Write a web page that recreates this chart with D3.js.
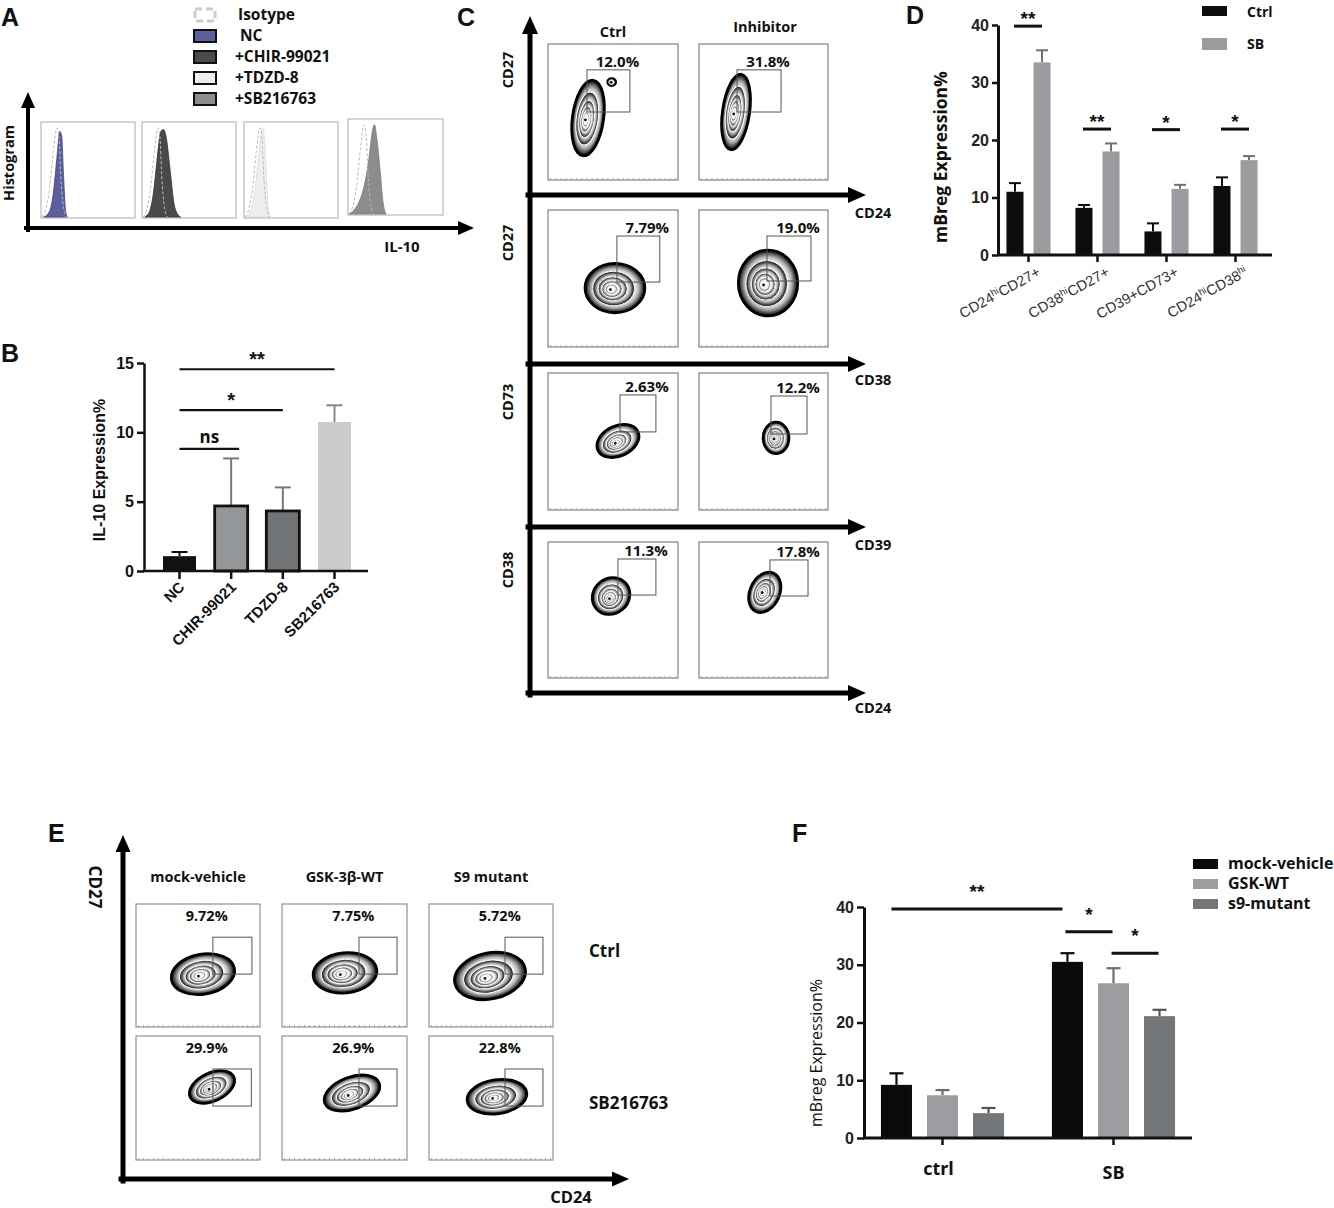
<!DOCTYPE html>
<html><head><meta charset="utf-8">
<script src="https://cdn.jsdelivr.net/npm/d3@7"></script>
<style>body{margin:0;background:#fff} svg{display:block}</style>
</head><body>
<svg id="fig" width="1334" height="1208"></svg>
<script>
// ================= DATA =================
// Panel A – IL-10 histograms (channel 0-100, relative count 0-100)
const histLegend = ["Isotype","NC","+CHIR-99021","+TDZD-8","+SB216763"];
const isotypeCurve = [[1,0],[5,8],[9,30],[13,70],[17,97],[19,88],[21,45],[24,10],[27,0]];
const ncCurve   = [[3,0],[9,6],[13,25],[17,65],[20,93],[22,88],[24,45],[26,8],[28,0]];
const chirCurve = [[3,0],[8,6],[12,25],[16,62],[20,93],[23,95],[26,85],[30,50],[34,15],[38,3],[41,0]];
const tdzdCurve = [[2,0],[7,6],[11,25],[15,60],[18,90],[20,96],[22,80],[24,40],[26,10],[28,0]];
const sbCurve   = [[1,0],[6,4],[12,14],[18,35],[22,60],[26,92],[28,97],[30,85],[34,45],[37,12],[40,0]];
const histCurves = [ncCurve, chirCurve, tdzdCurve, sbCurve];

// Panel B – IL-10 expression %
const bCategories = ["NC","CHIR-99021","TDZD-8","SB216763"];
const bMeans = [1.07, 4.69, 4.33, 10.74];
const bErrTop = [1.37, 8.12, 6.03, 11.95];
const bTicks = [0,5,10,15];
const bSig = [
  {from:"NC", to:"CHIR-99021", label:"ns", value:8.8},
  {from:"NC", to:"TDZD-8", label:"*", value:11.6},
  {from:"NC", to:"SB216763", label:"**", value:14.55}
];

// Panel C – flow gates (axis units 0-100)
const cColumns = ["Ctrl","Inhibitor"];
const cYMarkers = ["CD27","CD27","CD73","CD38"];
const cXMarkers = ["CD24","CD38","CD39","CD24"];
const cPercents = [["12.0%","31.8%"],["7.79%","19.0%"],["2.63%","12.2%"],["11.3%","17.8%"]];
const cGates = [   // [x0,x1,y0,y1]
  [[30,63,50,81],[29.5,63.6,50,81]],
  [[53,86,47.4,81],[52.7,86.8,48.2,81]],
  [[55.4,83,57,84],[55.8,83.7,55.5,83.2]],
  [[53.8,83,61,87.5],[55,84.5,60.3,86.8]]
];
const cPopulations = [
  [[{cx:30.8,cy:45.6,rx:12,ry:28,rot:8},{cx:49,cy:72,rx:3,ry:2.5,rot:0}],
   [{cx:28.7,cy:50,rx:10.5,ry:28,rot:8}]],
  [[{cx:51.5,cy:43,rx:23,ry:18,rot:0}],
   [{cx:53.5,cy:46.7,rx:23,ry:24,rot:0}]],
  [[{cx:53.8,cy:50.4,rx:17,ry:11,rot:-25}],
   [{cx:59.7,cy:52.6,rx:10,ry:11.5,rot:0}]],
  [[{cx:48.5,cy:60.3,rx:15,ry:13,rot:-40}],
   [{cx:51,cy:63,rx:11.5,ry:15.5,rot:25}]]
];

// Panel D – mBreg expression %
const dCategoryParts = [["CD24","hi","CD27+"],["CD38","hi","CD27+"],["CD39+CD73+"],["CD24","hi","CD38","hi"]];
const dCategories = ["CD24hiCD27+","CD38hiCD27+","CD39+CD73+","CD24hiCD38hi"];
const dSeries = ["Ctrl","SB"];
const dCtrl = [11.0, 8.2, 4.1, 12.0];
const dCtrlErrTop = [12.5, 8.7, 5.5, 13.5];
const dSB = [33.5, 18.0, 11.5, 16.5];
const dSBErrTop = [35.6, 19.4, 12.2, 17.2];
const dTicks = [0,10,20,30,40];
const dSigLabels = ["**","**","*","*"];
const dSigValues = [39.8, 21.9, 21.8, 21.9];

// Panel E – flow gates CD24/CD27
const eColumns = ["mock-vehicle","GSK-3β-WT","S9 mutant"];
const eRows = ["Ctrl","SB216763"];
const ePercents = [["9.72%","7.75%","5.72%"],["29.9%","26.9%","22.8%"]];
const eGates = [
  [[62,93.5,43,73],[61.6,92,43,73],[61.3,91.9,43,73]],
  [[62,93,43.5,73.4],[61.6,92,43.5,73.4],[61.3,91.9,43.5,73.4]]
];
const ePopulations = [
  [{cx:54,cy:43,rx:25.8,ry:16.3,rot:-10},{cx:50.4,cy:44,rx:25.6,ry:16.3,rot:-6},{cx:49.2,cy:41.5,rx:29,ry:18.7,rot:-12}],
  [{cx:61.3,cy:58.9,rx:19.4,ry:11.3,rot:-25},{cx:56,cy:54,rx:23.2,ry:12.9,rot:-20},{cx:54.8,cy:51,rx:24.2,ry:13.7,rot:-8}]
];

// Panel F – mBreg expression %
const fGroups = ["ctrl","SB"];
const fSeries = ["mock-vehicle","GSK-WT","s9-mutant"];
const fMock = [9.2, 30.5];
const fMockErrTop = [11.2, 32.0];
const fGSK = [7.4, 26.8];
const fGSKErrTop = [8.3, 29.4];
const fS9 = [4.3, 21.1];
const fS9ErrTop = [5.2, 22.2];
const fTicks = [0,10,20,30,40];
const fSig = [
  {from:["ctrl","mock-vehicle"], to:["SB","mock-vehicle"], label:"**", value:39.65},
  {from:["SB","mock-vehicle"], to:["SB","GSK-WT"], label:"*", value:35.7},
  {from:["SB","GSK-WT"], to:["SB","s9-mutant"], label:"*", value:32.0}
];

// ================= DRAWING =================
const svg = d3.select("#fig");
const ARIAL = "'Liberation Sans', Arial, sans-serif";
const OPEN = "'Open Sans', 'Noto Sans', sans-serif";

const defs = svg.append("defs");
const zg = defs.append("radialGradient").attr("id","zebra");
[[0,"#ffffff"],[0.66,"#f6f6f6"],[0.8,"#b0b0b0"],[0.92,"#444"],[1,"#080808"]]
  .forEach(([o,c]) => zg.append("stop").attr("offset",o).attr("stop-color",c));

function txt(g, x, y, s, opt={}) {
  return g.append("text").attr("x",x).attr("y",y).text(s)
    .attr("font-family", opt.family || OPEN)
    .attr("font-size", opt.size || 14)
    .attr("font-weight", opt.weight || "bold")
    .attr("fill", opt.fill || "#111")
    .attr("text-anchor", opt.anchor || "start");
}
function arrow(g, x1, y1, x2, y2, w, hl, hw) {
  const a = Math.atan2(y2-y1, x2-x1);
  const bx = x2 - hl*Math.cos(a), by = y2 - hl*Math.sin(a);
  g.append("line").attr("x1",x1).attr("y1",y1).attr("x2",bx).attr("y2",by)
    .attr("stroke","#000").attr("stroke-width",w).attr("stroke-linecap","square");
  const px = -Math.sin(a)*hw/2, py = Math.cos(a)*hw/2;
  g.append("path").attr("d",`M${x2},${y2}L${bx+px},${by+py}L${bx-px},${by-py}Z`).attr("fill","#000");
}
function panelLetter(x, y, s) { txt(svg, x, y, s, {family:ARIAL, size:25}); }

// ---------- Panel A ----------
panelLetter(1, 26, "A");
const gA = svg.append("g");
const legFill = [null, "#5b5f9c", "#4a4a4a", "#eeeeee", "#8c8c8c"];
const legY = d3.scalePoint().domain(histLegend).range([15, 99]);
histLegend.forEach((k,i) => {
  const y = legY(k);
  if (i === 0) {
    gA.append("rect").attr("x",195).attr("y",y-6).attr("width",20).attr("height",12)
      .attr("fill","none").attr("stroke","#ccc").attr("stroke-width",3).attr("stroke-dasharray","7,4");
  } else {
    gA.append("rect").attr("x",194).attr("y",y-6).attr("width",22).attr("height",12)
      .attr("fill",legFill[i]).attr("stroke","#111").attr("stroke-width",2);
  }
  txt(gA, i===0 ? 238 : (i===1 ? 240 : 235), y+5, k, {size:15.5});
});
arrow(gA, 28, 230, 28, 92, 4, 16, 14);
arrow(gA, 26, 228, 474, 228, 4, 16, 14);
txt(gA, 0, 0, "Histogram", {size:14.5}).attr("text-anchor","middle")
  .attr("transform","translate(14,163) rotate(-90)");
txt(gA, 402, 252, "IL-10", {size:15, anchor:"middle"});
const histBoxes = [[41,135,122,218],[142,236,122,218],[244,338,122,218],[348,443,119,215]];
const histStroke = ["#3f4385","#333","#dadada","#7a7a7a"];
histBoxes.forEach((b,i) => {
  gA.append("rect").attr("x",b[0]).attr("y",b[2]).attr("width",b[1]-b[0]).attr("height",b[3]-b[2])
    .attr("fill","#fff").attr("stroke","#aaa").attr("stroke-width",1);
  const hx = d3.scaleLinear().domain([0,100]).range([b[0], b[1]]);
  const hy = d3.scaleLinear().domain([0,100]).range([b[3]-1, b[2]+3]);
  const area = d3.area().x(d=>hx(d[0])).y0(hy(0)).y1(d=>hy(d[1])).curve(d3.curveMonotoneX);
  const line = d3.line().x(d=>hx(d[0])).y(d=>hy(d[1])).curve(d3.curveMonotoneX);
  gA.append("path").datum(histCurves[i]).attr("d",area).attr("fill",legFill[i+1])
    .attr("stroke",histStroke[i]).attr("stroke-width",0.8);
  gA.append("path").datum(isotypeCurve).attr("d",line).attr("fill","none")
    .attr("stroke","#bbb").attr("stroke-width",1).attr("stroke-dasharray","3,2");
});

// ---------- Panel B ----------
panelLetter(1, 362, "B");
const gB = svg.append("g");
const bY = d3.scaleLinear().domain([0,15]).range([571, 363]);
const bX = d3.scalePoint().domain(bCategories).range([179.5, 334.5]);
const bFill = ["#111","#94979a","#717476","#cbcbcb"];
const bStroke = ["#111","#111","#111","none"];
const bErrCol = ["#111","#777","#777","#888"];
const bW = 33;
bCategories.forEach((c,i) => {
  const x = bX(c);
  gB.append("line").attr("x1",x).attr("x2",x).attr("y1",bY(bMeans[i])).attr("y2",bY(bErrTop[i]))
    .attr("stroke",bErrCol[i]).attr("stroke-width",2);
  gB.append("line").attr("x1",x-8).attr("x2",x+8).attr("y1",bY(bErrTop[i])).attr("y2",bY(bErrTop[i]))
    .attr("stroke",bErrCol[i]).attr("stroke-width",2);
  gB.append("rect").attr("x",x-bW/2).attr("width",bW).attr("y",bY(bMeans[i]))
    .attr("height",bY(0)-bY(bMeans[i])).attr("fill",bFill[i])
    .attr("stroke",bStroke[i]).attr("stroke-width",i===0?0:2.8);
});
const bAxis = gB.append("g").attr("transform","translate(144,0)")
  .call(d3.axisLeft(bY).tickValues(bTicks).tickSize(7).tickSizeOuter(0).tickPadding(3));
bAxis.select(".domain").attr("stroke","#111").attr("stroke-width",2.5);
bAxis.selectAll(".tick line").attr("stroke","#111").attr("stroke-width",2.5);
bAxis.selectAll(".tick text").attr("font-family",ARIAL).attr("font-size",16).attr("font-weight","bold").attr("fill","#111");
gB.append("line").attr("x1",143).attr("x2",368).attr("y1",571).attr("y2",571).attr("stroke","#111").attr("stroke-width",2.5);
bCategories.forEach(c => {
  gB.append("line").attr("x1",bX(c)).attr("x2",bX(c)).attr("y1",571).attr("y2",579).attr("stroke","#111").attr("stroke-width",2.5);
  txt(gB, 0, 0, c, {family:ARIAL, size:15, anchor:"end"})
    .attr("transform",`translate(${bX(c)+6},${588}) rotate(-45)`);
});
bSig.forEach(s => {
  const y = bY(s.value);
  gB.append("line").attr("x1",bX(s.from)).attr("x2",bX(s.to)+(s.label==="ns"?8:0)).attr("y1",y).attr("y2",y)
    .attr("stroke","#111").attr("stroke-width",2.2);
  const mx = (bX(s.from)+bX(s.to)+(s.label==="ns"?8:0))/2;
  if (s.label === "ns") txt(gB, mx, y-6, s.label, {family:OPEN, size:17, anchor:"middle"});
  else txt(gB, mx, y-3, s.label, {family:ARIAL, size:20, anchor:"middle"});
});
txt(gB, 0, 0, "IL-10 Expression%", {family:ARIAL, size:16, anchor:"middle"})
  .attr("transform","translate(105,470) rotate(-90)");

// ---------- Flow helpers ----------
const levels = [1, 0.7, 0.49, 0.34, 0.2];
function drawPopulation(g, xs, ys, p) {
  const rx = xs(p.rx) - xs(0), ry = ys(0) - ys(p.ry);
  const grp = g.append("g").attr("transform",`translate(${xs(p.cx)},${ys(p.cy)}) rotate(${p.rot})`);
  levels.forEach((k,i) => {
    grp.append("ellipse").attr("cx", -rx*0.15*(1-k)).attr("cy", ry*0.06*(1-k))
      .attr("rx", rx*k).attr("ry", ry*k)
      .attr("fill","url(#zebra)")
      .attr("stroke", i===0 ? "#000" : "#fff")
      .attr("stroke-width", i===0 ? 2.8 : 1);
  });
  grp.append("circle").attr("cx",-rx*0.15).attr("cy",ry*0.06).attr("r",1.4).attr("fill","#111");
}
function flowPlot(g, box, gate, pops, pct, boxStroke) {
  const xs = d3.scaleLinear().domain([0,100]).range([box[0], box[1]]);
  const ys = d3.scaleLinear().domain([0,100]).range([box[3], box[2]]);
  g.append("rect").attr("x",box[0]).attr("y",box[2]).attr("width",box[1]-box[0]).attr("height",box[3]-box[2])
    .attr("fill","#fff").attr("stroke",boxStroke).attr("stroke-width",1.1);
  const tk = d3.range(0, 100, 4);
  g.selectAll(null).data(tk).enter().append("line")
    .attr("x1",d=>xs(d+2)).attr("x2",d=>xs(d+2)).attr("y1",box[3]).attr("y2",box[3]-2)
    .attr("stroke","#999").attr("stroke-width",0.8);
  pops.forEach(p => drawPopulation(g, xs, ys, p));
  g.append("rect").attr("x",xs(gate[0])).attr("y",ys(gate[3]))
    .attr("width",xs(gate[1])-xs(gate[0])).attr("height",ys(gate[2])-ys(gate[3]))
    .attr("fill","none").attr("stroke","#555").attr("stroke-width",1);
  return {xs, ys};
}

// ---------- Panel C ----------
panelLetter(457, 26, "C");
const gC = svg.append("g");
const cColX = [[548,678],[699,828]];
const cRowY = [[44,180],[210,347],[373,510],[542,678]];
const cArrowY = [195, 364, 527, 693];
arrow(gC, 530, 695, 530, 16, 5, 18, 16);
cArrowY.forEach((y,r) => {
  arrow(gC, 528, y, 866, y, 5, 18, 16);
  txt(gC, 873, y + [23, 21, 23, 20][r], cXMarkers[r], {size:14.5, anchor:"middle"});
  txt(gC, 0, 0, cYMarkers[r], {size:14.5, anchor:"middle"})
    .attr("transform",`translate(513,${[70,243,402,570][r]}) rotate(-90)`);
});
txt(gC, 613, 37, cColumns[0], {size:14.5, anchor:"middle"});
txt(gC, 765, 32, cColumns[1], {size:14.5, anchor:"middle"});
cRowY.forEach((ry, r) => {
  cColX.forEach((cx, c) => {
    const box = [cx[0], cx[1], ry[0], ry[1]];
    const {xs, ys} = flowPlot(gC, box, cGates[r][c], cPopulations[r][c], cPercents[r][c], "#777");
    const gate = cGates[r][c];
    txt(gC, (xs(gate[0])+xs(gate[1]))/2 + 9, ys(gate[3]) - 3, cPercents[r][c], {size:15, anchor:"middle"});
  });
});

// ---------- Panel D ----------
panelLetter(906, 24, "D");
const gD = svg.append("g");
const dY = d3.scaleLinear().domain([0,40]).range([255, 25]);
const dX = d3.scaleBand().domain(dCategories).range([994, 1270]);
const dInner = d3.scaleBand().domain(dSeries).range([0, dX.bandwidth()]).paddingInner(0.37).paddingOuter(0.46);
const dFill = {Ctrl:"#0d0d0d", SB:"#9a9c9f"};
const dErr = {Ctrl:"#0d0d0d", SB:"#6e7072"};
const dVals = {Ctrl:[dCtrl, dCtrlErrTop], SB:[dSB, dSBErrTop]};
dCategories.forEach((cat,i) => {
  dSeries.forEach(s => {
    const x0 = dX(cat) + dInner(s), w = dInner.bandwidth(), xm = x0 + w/2;
    const v = dVals[s][0][i], e = dVals[s][1][i];
    gD.append("line").attr("x1",xm).attr("x2",xm).attr("y1",dY(v)).attr("y2",dY(e)).attr("stroke",dErr[s]).attr("stroke-width",2);
    gD.append("line").attr("x1",xm-6).attr("x2",xm+6).attr("y1",dY(e)).attr("y2",dY(e)).attr("stroke",dErr[s]).attr("stroke-width",2);
    gD.append("rect").attr("x",x0).attr("width",w).attr("y",dY(v)).attr("height",dY(0)-dY(v)).attr("fill",dFill[s]);
  });
  const xa = dX(cat) + dInner("Ctrl") + dInner.bandwidth()/2 - 1;
  const xb = dX(cat) + dInner("SB") + dInner.bandwidth()/2;
  const ys = dY(dSigValues[i]);
  gD.append("line").attr("x1",xa).attr("x2",xb).attr("y1",ys).attr("y2",ys).attr("stroke","#111").attr("stroke-width",3);
  txt(gD, (xa+xb)/2, ys - 1, dSigLabels[i], {family:ARIAL, size:19, anchor:"middle"});
});
const dAxis = gD.append("g").attr("transform","translate(998,0)")
  .call(d3.axisLeft(dY).tickValues(dTicks).tickSize(6).tickSizeOuter(0).tickPadding(3));
dAxis.select(".domain").attr("stroke","#111").attr("stroke-width",3);
dAxis.selectAll(".tick line").attr("stroke","#111").attr("stroke-width",2.5);
dAxis.selectAll(".tick text").attr("font-family",ARIAL).attr("font-size",16).attr("font-weight","bold").attr("fill","#222");
gD.append("line").attr("x1",997).attr("x2",1272).attr("y1",255).attr("y2",255).attr("stroke","#111").attr("stroke-width",3);
dCategories.forEach((cat,i) => {
  const xc = dX(cat) + dX.bandwidth()/2;
  gD.append("line").attr("x1",xc).attr("x2",xc).attr("y1",255).attr("y2",262).attr("stroke","#111").attr("stroke-width",2.5);
  const t = gD.append("text").attr("text-anchor","end").attr("font-family",ARIAL).attr("font-size",14.5)
    .attr("fill","#333").attr("transform",`translate(${xc+13},${275}) rotate(-29)`);
  dCategoryParts[i].forEach((part,j) => {
    const sup = j % 2 === 1;
    const prevSup = j > 0 && (j-1) % 2 === 1;
    const ts = t.append("tspan").text(part);
    if (sup) ts.attr("font-size",9.5).attr("dy",-5);
    else if (prevSup) ts.attr("dy",5);
  });
});
txt(gD, 0, 0, "mBreg Expression%", {family:OPEN, size:17.5, anchor:"middle"})
  .attr("transform","translate(947,157) rotate(-90)");
dSeries.forEach((s,i) => {
  const y = [12, 44][i];
  gD.append("rect").attr("x",1202).attr("y",y-6).attr("width",25).attr("height",[10,12][i]).attr("fill",dFill[s]);
  txt(gD, 1247, y+5, s, {size:14});
});

// ---------- Panel E ----------
panelLetter(48, 842, "E");
const gE = svg.append("g");
const eColX = [[136,260],[282,407],[429,553]];
const eRowY = [[904,1027],[1036,1160]];
arrow(gE, 123, 1181, 123, 835, 5, 17, 15);
arrow(gE, 121, 1179, 629, 1179, 5, 17, 15);
txt(gE, 0, 0, "CD27", {size:17, anchor:"middle"}).attr("transform","translate(89,887) rotate(90)");
txt(gE, 571, 1203, "CD24", {size:16.5, anchor:"middle"});
eColumns.forEach((c,j) => txt(gE, (eColX[j][0]+eColX[j][1])/2, 882, c, {size:14.5, anchor:"middle"}));
eRows.forEach((r,i) => txt(gE, 589, [957,1109][i], r, {size:17}));
eRowY.forEach((ry, r) => {
  eColX.forEach((cx, c) => {
    const box = [cx[0], cx[1], ry[0], ry[1]];
    flowPlot(gE, box, eGates[r][c], [ePopulations[r][c]], ePercents[r][c], "#888");
    txt(gE, cx[0] + (cx[1]-cx[0])*0.57, ry[0] + 17, ePercents[r][c], {size:14.5, anchor:"middle"});
  });
});

// ---------- Panel F ----------
panelLetter(792, 842, "F");
const gF = svg.append("g");
const fY = d3.scaleLinear().domain([0,40]).range([1138, 907]);
const fX = d3.scaleBand().domain(fGroups).range([857, 1199]);
const fInner = d3.scaleBand().domain(fSeries).range([0, fX.bandwidth()]).paddingInner(0.326).paddingOuter(0.52);
const fFill = {"mock-vehicle":"#0a0a0a","GSK-WT":"#9b9da0","s9-mutant":"#747779"};
const fErr = {"mock-vehicle":"#0a0a0a","GSK-WT":"#6a6c6e","s9-mutant":"#555"};
const fVals = {"mock-vehicle":[fMock,fMockErrTop],"GSK-WT":[fGSK,fGSKErrTop],"s9-mutant":[fS9,fS9ErrTop]};
fGroups.forEach((g,i) => {
  fSeries.forEach(s => {
    const x0 = fX(g) + fInner(s), w = fInner.bandwidth(), xm = x0 + w/2;
    const v = fVals[s][0][i], e = fVals[s][1][i];
    gF.append("line").attr("x1",xm).attr("x2",xm).attr("y1",fY(v)).attr("y2",fY(e)).attr("stroke",fErr[s]).attr("stroke-width",2.2);
    gF.append("line").attr("x1",xm-7).attr("x2",xm+7).attr("y1",fY(e)).attr("y2",fY(e)).attr("stroke",fErr[s]).attr("stroke-width",2.2);
    gF.append("rect").attr("x",x0).attr("width",w).attr("y",fY(v)).attr("height",fY(0)-fY(v)).attr("fill",fFill[s]);
  });
});
const fAxis = gF.append("g").attr("transform","translate(864,0)")
  .call(d3.axisLeft(fY).tickValues(fTicks).tickSize(7).tickSizeOuter(0).tickPadding(3));
fAxis.select(".domain").attr("stroke","#111").attr("stroke-width",3);
fAxis.selectAll(".tick line").attr("stroke","#111").attr("stroke-width",2.5);
fAxis.selectAll(".tick text").attr("font-family",ARIAL).attr("font-size",16).attr("font-weight","bold").attr("fill","#222");
gF.append("line").attr("x1",863).attr("x2",1192).attr("y1",1138).attr("y2",1138).attr("stroke","#111").attr("stroke-width",3);
fGroups.forEach((g,i) => {
  const xc = fX(g) + fX.bandwidth()/2;
  gF.append("line").attr("x1",xc).attr("x2",xc).attr("y1",1138).attr("y2",1145).attr("stroke","#111").attr("stroke-width",2.5);
  txt(gF, xc - (i===0?4:0), [1175,1179][i], g, {size:18, anchor:"middle"});
});
fSig.forEach(s => {
  const xa = fX(s.from[0]) + fInner(s.from[1]) + fInner.bandwidth()/2 - (s.label==="**"?5:2);
  const xb = fX(s.to[0]) + fInner(s.to[1]) + fInner.bandwidth()/2 - (s.label==="**"?5:1);
  const y = fY(s.value);
  gF.append("line").attr("x1",xa).attr("x2",xb).attr("y1",y).attr("y2",y).attr("stroke","#111").attr("stroke-width",3);
  txt(gF, (xa+xb)/2, y - 11, s.label, {family:ARIAL, size:19, anchor:"middle"});
});
txt(gF, 0, 0, "mBreg Expression%", {family:OPEN, size:16, weight:"normal", anchor:"middle"})
  .attr("transform","translate(822,1053) rotate(-90)");
fSeries.forEach((s,i) => {
  const y = [864, 884, 904][i];
  gF.append("rect").attr("x",1193).attr("y",y-5).attr("width",25).attr("height",10).attr("fill",fFill[s]);
  txt(gF, 1228, y+5, s, {size:16});
});
</script>
</body></html>
